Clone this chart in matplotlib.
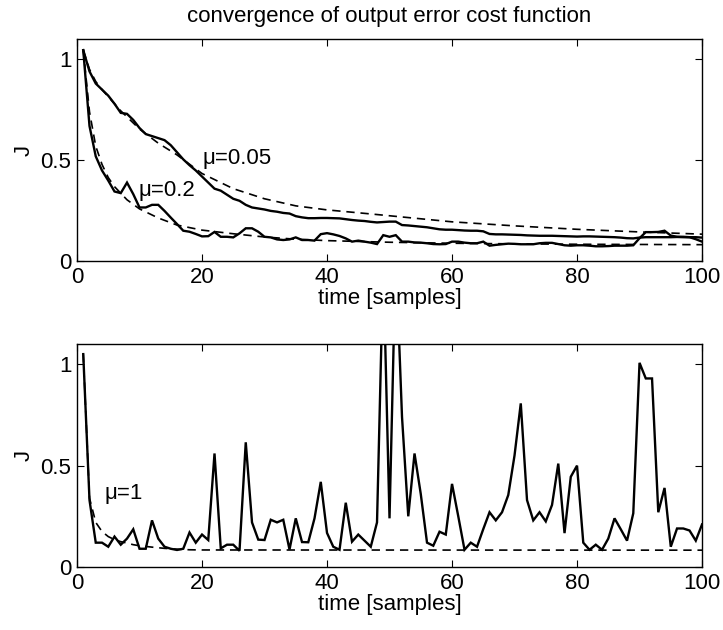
import numpy as np
import matplotlib
matplotlib.use("Agg")
import matplotlib.pyplot as plt

plt.rcParams['font.family'] = ['Liberation Sans', 'DejaVu Sans']
plt.rcParams['font.size'] = 16

# ---- data -------------------------------------------------------------
samples = np.arange(1, 101)

# learning curves (solid), one value per sample
J_mu005 = [1.045, 0.94, 0.88, 0.85, 0.82, 0.78, 0.735, 0.73, 0.70, 0.66,
           0.63, 0.62, 0.61, 0.60, 0.575, 0.54, 0.505, 0.476, 0.45, 0.42,
           0.39, 0.36, 0.35, 0.33, 0.31, 0.30, 0.28, 0.267, 0.262, 0.257,
           0.25, 0.246, 0.24, 0.237, 0.224, 0.218, 0.214, 0.214, 0.215, 0.215,
           0.214, 0.213, 0.209, 0.205, 0.202, 0.20, 0.196, 0.193, 0.195, 0.197,
           0.197, 0.18, 0.178, 0.175, 0.172, 0.169, 0.164, 0.159, 0.157, 0.157,
           0.155, 0.153, 0.152, 0.152, 0.149, 0.136, 0.134, 0.134, 0.133, 0.132,
           0.131, 0.129, 0.128, 0.127, 0.127, 0.127, 0.126, 0.125, 0.124, 0.123,
           0.124, 0.124, 0.123, 0.122, 0.121, 0.12, 0.118, 0.115, 0.114, 0.118,
           0.12, 0.12, 0.12, 0.12, 0.12, 0.121, 0.12, 0.12, 0.12, 0.118]

J_mu02 = [1.045, 0.67, 0.52, 0.45, 0.40, 0.346, 0.338, 0.39, 0.333, 0.267,
          0.267, 0.28, 0.28, 0.25, 0.217, 0.185, 0.152, 0.147, 0.136, 0.124,
          0.125, 0.146, 0.122, 0.122, 0.119, 0.139, 0.164, 0.164, 0.147, 0.122,
          0.119, 0.109, 0.106, 0.109, 0.119, 0.106, 0.106, 0.103, 0.135, 0.14,
          0.134, 0.126, 0.114, 0.098, 0.103, 0.098, 0.093, 0.086, 0.13, 0.122,
          0.13, 0.098, 0.098, 0.094, 0.093, 0.09, 0.086, 0.085, 0.086, 0.098,
          0.098, 0.093, 0.09, 0.09, 0.098, 0.078, 0.082, 0.085, 0.088, 0.087,
          0.085, 0.085, 0.085, 0.09, 0.092, 0.092, 0.086, 0.08, 0.078, 0.08,
          0.08, 0.078, 0.075, 0.075, 0.076, 0.078, 0.078, 0.078, 0.08, 0.115,
          0.145, 0.145, 0.146, 0.152, 0.128, 0.122, 0.122, 0.12, 0.11, 0.098]

J_mu1 = [1.05, 0.33, 0.12, 0.12, 0.10, 0.15, 0.11, 0.14, 0.186, 0.09,
         0.09, 0.23, 0.14, 0.10, 0.09, 0.084, 0.09, 0.17, 0.12, 0.16,
         0.133, 0.56, 0.092, 0.11, 0.11, 0.08, 0.615, 0.22, 0.135, 0.133,
         0.233, 0.22, 0.233, 0.086, 0.24, 0.123, 0.122, 0.24, 0.42, 0.168,
         0.10, 0.085, 0.317, 0.125, 0.16, 0.13, 0.10, 0.22, 1.5, 0.24,
         1.55, 0.74, 0.25, 0.56, 0.36, 0.12, 0.105, 0.174, 0.16, 0.41,
         0.25, 0.085, 0.12, 0.10, 0.187, 0.27, 0.23, 0.27, 0.355, 0.55,
         0.807, 0.33, 0.23, 0.27, 0.225, 0.306, 0.51, 0.167, 0.445, 0.50,
         0.12, 0.085, 0.11, 0.085, 0.14, 0.24, 0.186, 0.13, 0.265, 1.007,
         0.93, 0.93, 0.27, 0.39, 0.10, 0.19, 0.19, 0.18, 0.13, 0.21]

# theoretical curves (dashed)
t_mu005 = [1, 2, 3, 4, 5, 7, 10, 13, 16, 20, 25, 30, 35, 40, 47, 54, 60, 70, 80, 90, 100]
Jth_mu005 = [1.045, 0.95, 0.89, 0.85, 0.815, 0.745, 0.655, 0.585, 0.527, 0.435,
             0.36, 0.31, 0.275, 0.255, 0.235, 0.214, 0.196, 0.176, 0.159, 0.146, 0.135]

t_mu02 = [1, 2, 3, 4, 5, 6, 8, 10, 13, 16, 20, 25, 30, 35, 40, 50, 60, 70, 80, 90, 100]
Jth_mu02 = [1.045, 0.74, 0.57, 0.48, 0.415, 0.37, 0.305, 0.26, 0.215, 0.18, 0.155,
            0.137, 0.121, 0.11, 0.103, 0.095, 0.09, 0.087, 0.085, 0.084, 0.083]

t_mu1 = [1, 2, 3, 4, 5, 6, 7, 8, 9, 10, 12, 14, 16, 18, 20, 100]
Jth_mu1 = [1.05, 0.34, 0.22, 0.175, 0.15, 0.135, 0.125, 0.118, 0.11, 0.105,
           0.098, 0.092, 0.088, 0.085, 0.084, 0.083]

x_ticks = [0, 20, 40, 60, 80, 100]
y_ticks = [0, 0.5, 1]
y_ticklabels = ['0', '0.5', '1']

# ---- figure -----------------------------------------------------------
fig = plt.figure(figsize=(7.23, 6.30), dpi=100)
ax1 = fig.add_axes([0.1065, 0.585, 0.8645, 0.353])
ax2 = fig.add_axes([0.1065, 0.100, 0.8645, 0.354])

solid_kw = dict(color='black', lw=1.7, solid_joinstyle='miter')
dash_kw = dict(color='black', lw=1.2, dashes=(5, 3.5))

ax1.plot(t_mu005, Jth_mu005, **dash_kw)
ax1.plot(t_mu02, Jth_mu02, **dash_kw)
ax1.plot(samples, J_mu005, **solid_kw)
ax1.plot(samples, J_mu02, **solid_kw)
ax1.text(20, 0.509, 'μ=0.05', va='center', ha='left')
ax1.text(9.9, 0.35, 'μ=0.2', va='center', ha='left')
ax1.set_title('convergence of output error cost function', fontsize=16, pad=12)

ax2.plot(t_mu1, Jth_mu1, **dash_kw)
ax2.plot(samples, J_mu1, **solid_kw)
ax2.text(4.4, 0.363, 'μ=1', va='center', ha='left')

for ax in (ax1, ax2):
    ax.set_xlim(0, 100)
    ax.set_ylim(0, 1.1)
    ax.set_xticks(x_ticks)
    ax.set_yticks(y_ticks)
    ax.set_yticklabels(y_ticklabels)
    ax.set_xlabel('time [samples]', labelpad=0)
    ax.set_ylabel('J', labelpad=4)
    ax.tick_params(direction='in', length=5, width=0.8, top=True, right=True,
                   labelsize=16, pad=4)
    for s in ax.spines.values():
        s.set_linewidth(1.0)

fig.savefig('out.png', dpi=100)
